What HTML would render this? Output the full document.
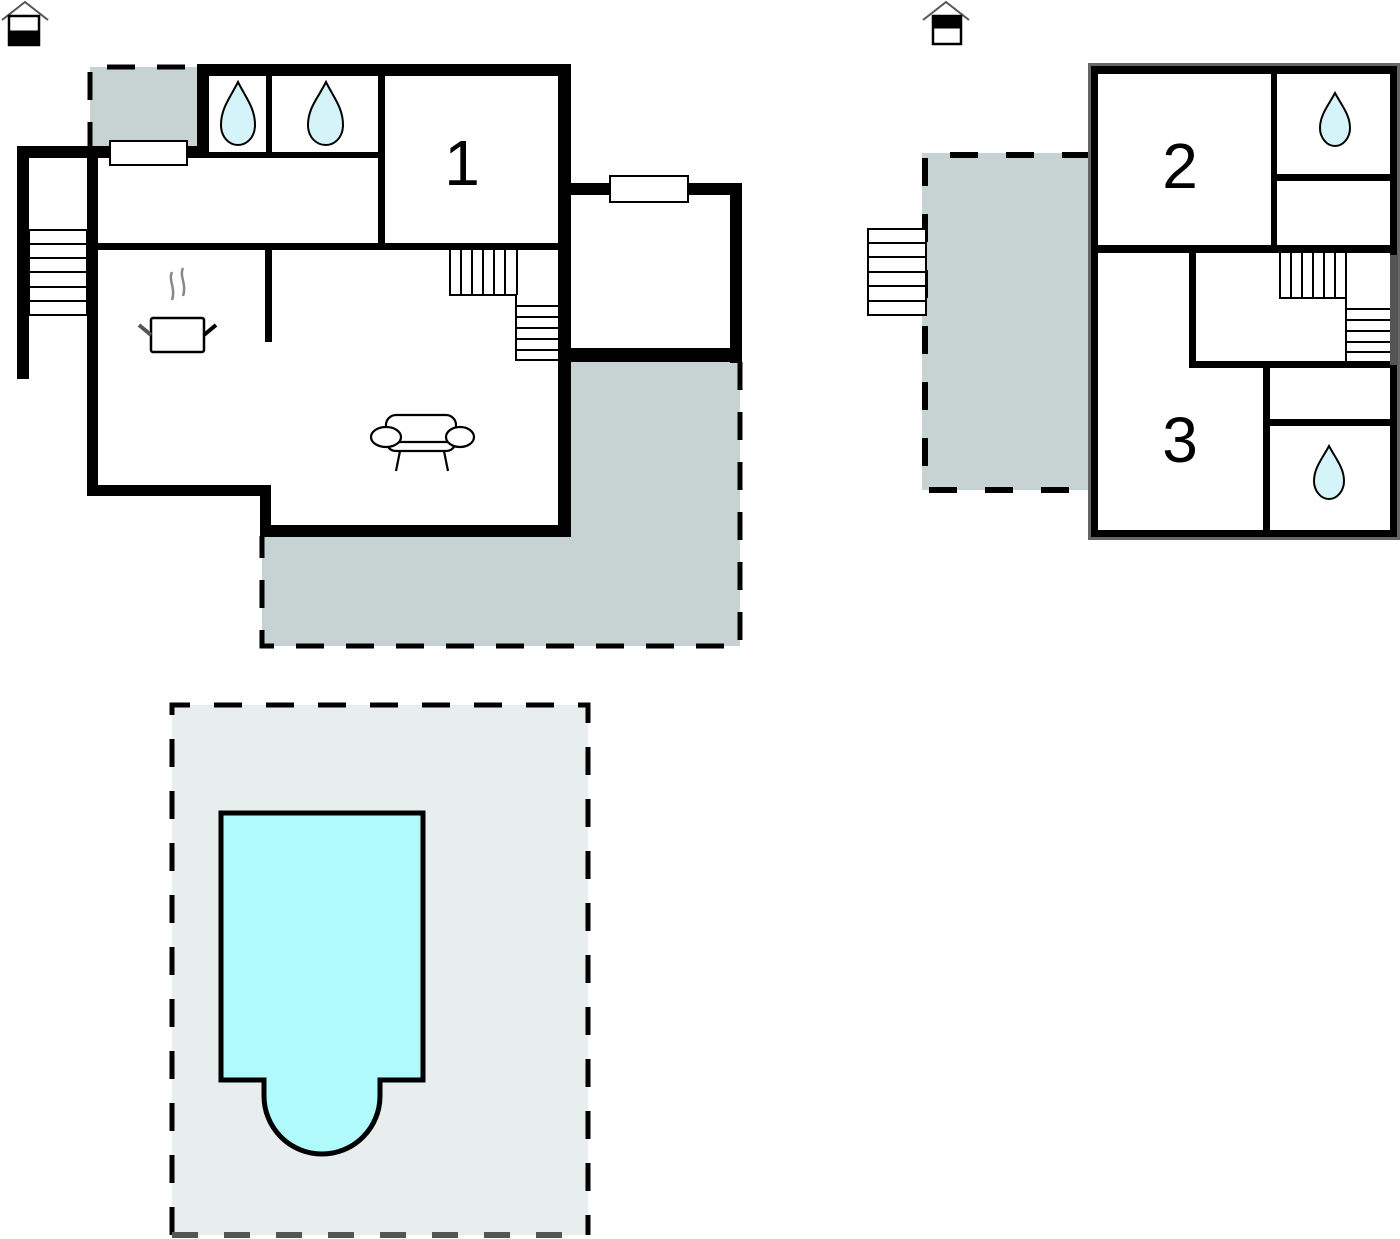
<!DOCTYPE html>
<html><head><meta charset="utf-8"><style>
html,body{margin:0;padding:0;background:#fff;}
svg{display:block;}
text{font-family:"Liberation Sans",sans-serif;}
</style></head><body>
<svg width="1400" height="1239" viewBox="0 0 1400 1239" xmlns="http://www.w3.org/2000/svg">
<g stroke="#000" fill="none">
 <polyline points="2,20 25,2 48,20" stroke="#555" stroke-width="2"/>
 <rect x="9" y="16" width="30" height="29" fill="#fff" stroke-width="2.5"/>
 <rect x="9" y="31" width="30" height="14" fill="#000"/>
 <polyline points="923,20 946,2 969,20" stroke="#555" stroke-width="2"/>
 <rect x="933" y="16" width="28" height="28" fill="#fff" stroke-width="2.5"/>
 <rect x="933" y="16" width="28" height="12" fill="#000"/>
</g>

<rect x="90" y="67" width="108" height="82" fill="#c7d3d3"/>
<polygon points="571,362 740,362 740,646 262,646 262,536 571,536" fill="#c7d3d3"/>
<g stroke="#000" stroke-width="5" fill="none" stroke-dasharray="28 22">
 <polyline points="90,150 90,67 198,67"/>
 <polyline points="740,362 740,646 262,646 262,536"/>
</g>
<g fill="#000">
 <rect x="197" y="64" width="374" height="12"/>
 <rect x="558" y="64" width="13" height="472"/>
 <rect x="197" y="64" width="12" height="94"/>
 <rect x="17" y="146" width="192" height="12"/>
 <rect x="17" y="146" width="12" height="233"/>
 <rect x="87" y="146" width="11" height="350"/>
 <rect x="87" y="485" width="184" height="11"/>
 <rect x="260" y="485" width="11" height="52"/>
 <rect x="260" y="525" width="311" height="12"/>
 <rect x="266" y="75" width="6" height="80"/>
 <rect x="207" y="152" width="177" height="6"/>
 <rect x="378" y="75" width="7" height="172"/>
 <rect x="97" y="243" width="463" height="7"/>
 <rect x="265" y="249" width="7" height="93"/>
 <rect x="558" y="183" width="184" height="12"/>
 <rect x="730" y="183" width="12" height="180"/>
 <rect x="558" y="348" width="184" height="14"/>
</g>
<rect x="110" y="141" width="77" height="24" fill="#fff" stroke="#000" stroke-width="2"/>
<rect x="610" y="176" width="78" height="26" fill="#fff" stroke="#000" stroke-width="2"/>
<g stroke="#000" stroke-width="2" fill="#fff">
 <rect x="29" y="230" width="58" height="85"/>
 <line x1="29" y1="244" x2="87" y2="244"/><line x1="29" y1="258" x2="87" y2="258"/>
 <line x1="29" y1="272" x2="87" y2="272"/><line x1="29" y1="287" x2="87" y2="287"/>
 <line x1="29" y1="301" x2="87" y2="301"/>
</g>
<g stroke="#000" stroke-width="2" fill="none">
 <polyline points="450,250 450,295 516,295 516,360 558,360"/>
 <line x1="517" y1="250" x2="517" y2="295"/>
 <line x1="461" y1="250" x2="461" y2="295"/><line x1="472" y1="250" x2="472" y2="295"/>
 <line x1="483" y1="250" x2="483" y2="295"/><line x1="494" y1="250" x2="494" y2="295"/>
 <line x1="505" y1="250" x2="505" y2="295"/>
 <line x1="516" y1="306" x2="558" y2="306"/><line x1="516" y1="317" x2="558" y2="317"/>
 <line x1="516" y1="328" x2="558" y2="328"/><line x1="516" y1="339" x2="558" y2="339"/>
 <line x1="516" y1="350" x2="558" y2="350"/>
</g>
<text x="462" y="185" font-size="64" text-anchor="middle">1</text>
<g stroke="#888" stroke-width="2.5" fill="none">
 <path d="M172,272 C168,280 176,288 172,300"/>
 <path d="M183,268 C179,276 187,284 183,296"/>
</g>
<rect x="151" y="318" width="53" height="34" rx="2" fill="#fff" stroke="#000" stroke-width="2.5"/>
<line x1="139" y1="325" x2="151" y2="335" stroke="#555" stroke-width="4"/>
<line x1="204" y1="335" x2="216" y2="325" stroke="#000" stroke-width="4"/>
<g stroke="#000" stroke-width="2.2" fill="#fff">
 <rect x="386" y="415" width="70" height="36" rx="10"/>
 <line x1="396" y1="442" x2="460" y2="442"/>
 <ellipse cx="386" cy="437" rx="15" ry="10"/>
 <ellipse cx="460" cy="437" rx="14" ry="10"/>
 <line x1="400" y1="451" x2="396" y2="471"/>
 <line x1="444" y1="451" x2="448" y2="471"/>
</g>

<rect x="922" y="153" width="168" height="337" fill="#c7d3d3"/>
<g stroke="#000" stroke-width="6" fill="none" stroke-dasharray="28 28">
 <polyline points="1090,155 925,155 925,490 1090,490"/>
</g>
<g stroke="#000" stroke-width="2" fill="#fff">
 <rect x="868" y="229" width="58" height="86"/>
 <line x1="868" y1="243" x2="926" y2="243"/><line x1="868" y1="257" x2="926" y2="257"/>
 <line x1="868" y1="272" x2="926" y2="272"/><line x1="868" y1="286" x2="926" y2="286"/>
 <line x1="868" y1="301" x2="926" y2="301"/>
</g>
<rect x="1088" y="63" width="312" height="477" fill="#666"/>
<rect x="1091" y="66" width="306" height="471" fill="#000"/>
<rect x="1098" y="74" width="292" height="456" fill="#fff"/>
<rect x="1390" y="255" width="8" height="110" fill="#555"/>
<g fill="#000">
 <rect x="1271" y="73" width="6" height="177"/>
 <rect x="1277" y="174" width="113" height="7"/>
 <rect x="1098" y="245" width="292" height="8"/>
 <rect x="1189" y="250" width="7" height="118"/>
 <rect x="1189" y="361" width="201" height="7"/>
 <rect x="1263" y="365" width="7" height="167"/>
 <rect x="1270" y="419" width="120" height="7"/>
</g>
<g stroke="#000" stroke-width="2" fill="none">
 <polyline points="1280,253 1280,298 1346,298 1346,362"/>
 <line x1="1346" y1="253" x2="1346" y2="298"/>
 <line x1="1291" y1="253" x2="1291" y2="298"/><line x1="1302" y1="253" x2="1302" y2="298"/>
 <line x1="1313" y1="253" x2="1313" y2="298"/><line x1="1324" y1="253" x2="1324" y2="298"/>
 <line x1="1335" y1="253" x2="1335" y2="298"/>
 <line x1="1346" y1="309" x2="1390" y2="309"/><line x1="1346" y1="320" x2="1390" y2="320"/>
 <line x1="1346" y1="331" x2="1390" y2="331"/><line x1="1346" y1="342" x2="1390" y2="342"/>
 <line x1="1346" y1="352" x2="1390" y2="352"/>
</g>
<text x="1180" y="188" font-size="64" text-anchor="middle">2</text>
<text x="1180" y="462" font-size="64" text-anchor="middle">3</text>

<g fill="#d4f4fa" stroke="#000" stroke-width="2">
 <path d="M238,82 C230,98 221,108 221,125 C221,137 229,145 238,145 C247,145 255,137 255,125 C255,108 246,98 238,82 Z"/>
 <path d="M326,82 C318,98 308,108 308,125 C308,137 316,145 326,145 C335,145 343,137 343,125 C343,108 334,98 326,82 Z"/>
 <path d="M1335,93 C1328,106 1320,115 1320,128 C1320,138 1327,146 1335,146 C1343,146 1350,138 1350,128 C1350,115 1342,106 1335,93 Z"/>
 <path d="M1329,446 C1322,459 1314,468 1314,481 C1314,491 1321,499 1329,499 C1337,499 1344,491 1344,481 C1344,468 1336,459 1329,446 Z"/>
</g>

<rect x="172" y="705" width="416" height="530" fill="#e8eeee"/>
<g stroke="#000" stroke-width="5" fill="none" stroke-dasharray="28 24">
 <polyline points="172,1235 172,705 588,705 588,1235"/>
</g>
<line x1="172" y1="1235" x2="588" y2="1235" stroke="#555" stroke-width="6" stroke-dasharray="26 26"/>
<path d="M221,813 L423,813 L423,1080 L380,1080 L380,1096 A58,58 0 0 1 264,1096 L264,1080 L221,1080 Z" fill="#b0fafc" stroke="#000" stroke-width="5"/>
</svg>
</body></html>
